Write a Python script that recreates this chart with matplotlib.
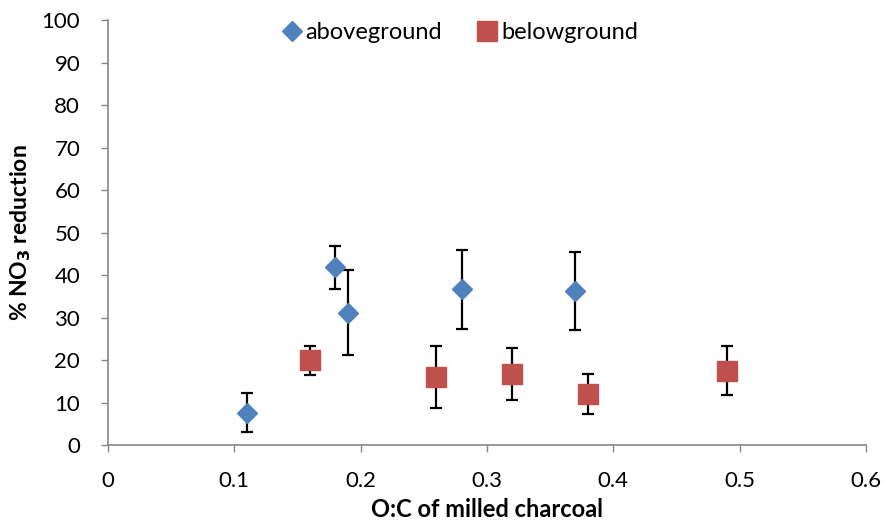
import matplotlib
matplotlib.use("Agg")
import matplotlib.pyplot as plt

# O:C ratio of milled charcoal vs % NO3 reduction
above_x = [0.11, 0.18, 0.19, 0.28, 0.37]
above_y = [7.6, 41.8, 31.1, 36.7, 36.2]
above_err = [4.6, 5.0, 10.0, 9.3, 9.2]

below_x = [0.16, 0.26, 0.32, 0.38, 0.49]
below_y = [19.9, 16.0, 16.7, 12.1, 17.5]
below_err = [3.4, 7.3, 6.1, 4.7, 5.7]

x_ticks = [0, 0.1, 0.2, 0.3, 0.4, 0.5, 0.6]
y_ticks = [0, 10, 20, 30, 40, 50, 60, 70, 80, 90, 100]

plt.rcParams['font.family'] = ['Lato', 'DejaVu Sans']

fig = plt.figure(figsize=(8.86, 5.32), dpi=100)
ax = fig.add_axes([0.1219, 0.1635, 0.8555, 0.7989])

ax.errorbar(above_x, above_y, yerr=above_err, fmt='D', color='#4F81BD', ms=10.5,
            ecolor='black', elinewidth=1.6, capsize=4.5, capthick=1.6,
            label='aboveground', zorder=3)
ax.errorbar(below_x, below_y, yerr=below_err, fmt='s', color='#C0504D', ms=14,
            ecolor='black', elinewidth=1.6, capsize=4.5, capthick=1.6,
            label='belowground', zorder=3)

ax.set_xlim(0, 0.6)
ax.set_ylim(0, 100)
ax.set_xticks(x_ticks)
ax.set_xticklabels(['0', '0.1', '0.2', '0.3', '0.4', '0.5', '0.6'])
ax.set_yticks(y_ticks)

for s in ['top', 'right']:
    ax.spines[s].set_visible(False)
for s in ['left', 'bottom']:
    ax.spines[s].set_color('#868686')
    ax.spines[s].set_linewidth(1.2)
ax.tick_params(direction='out', length=5, width=1, color='#868686', labelsize=16)
ax.tick_params(axis='y', pad=15)
ax.tick_params(axis='x', pad=14)

ax.set_xlabel('O:C of milled charcoal', fontsize=17, fontweight='bold', labelpad=5)
ax.set_ylabel('% NO$_\\mathbf{3}$ reduction', fontsize=16.5, fontweight='bold', labelpad=6)

handles, labels = ax.get_legend_handles_labels()
handles = [h[0] for h in handles]
ax.legend(handles, labels, loc='upper center', bbox_to_anchor=(0.463, 1.045), ncol=2,
          frameon=False, fontsize=17, handletextpad=0.1, columnspacing=1.4,
          handlelength=1.0)

fig.savefig('out.png', dpi=100)
